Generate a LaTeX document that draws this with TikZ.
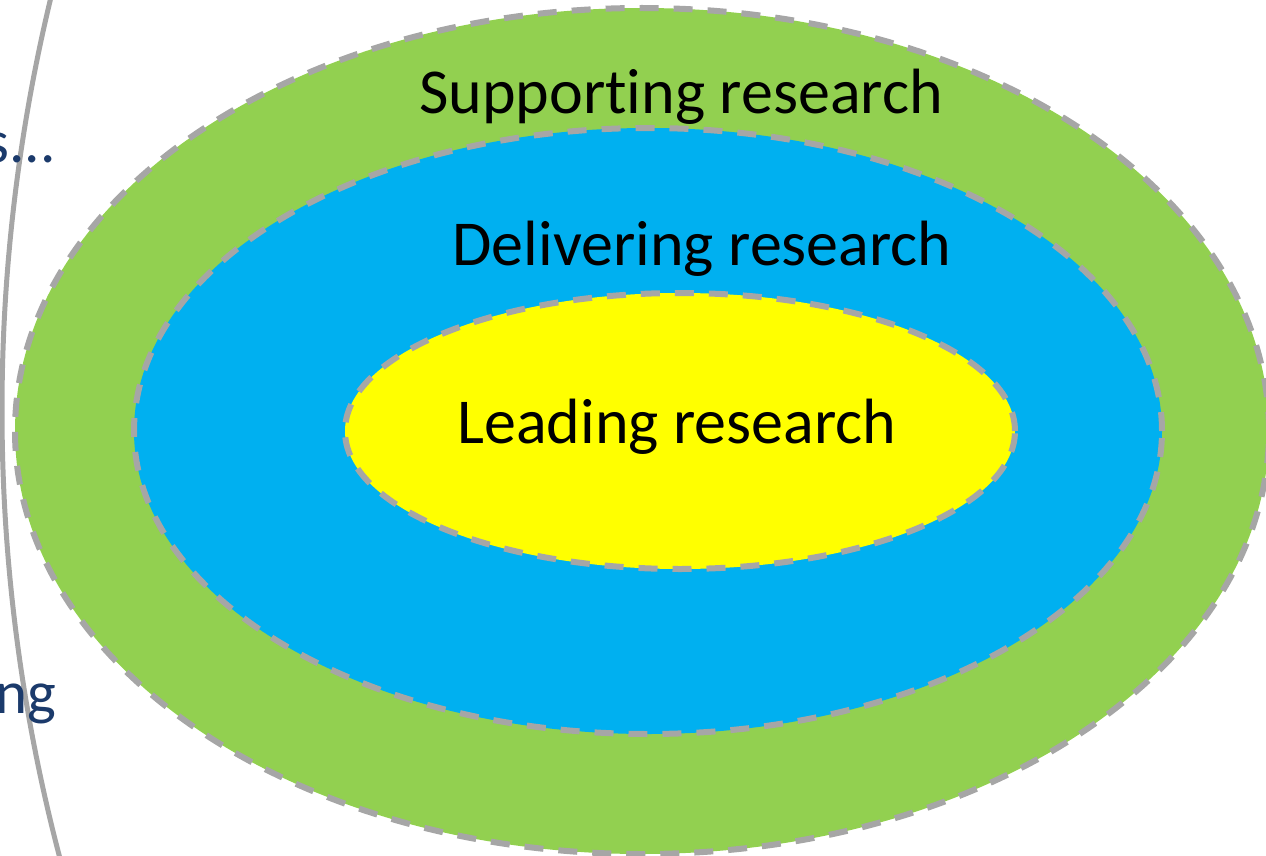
\documentclass[tikz,border=0pt]{standalone}
\usepackage{fontspec}
\setmainfont{Carlito}[Ligatures=NoCommon]
\definecolor{ringgreen}{HTML}{92D050}
\definecolor{ringblue}{HTML}{00B0F0}
\definecolor{ringyellow}{HTML}{FFFF00}
\definecolor{rimgray}{HTML}{A6A6A6}
\definecolor{sidetext}{HTML}{1B3A6B}
\begin{document}
\begin{tikzpicture}[x=1pt,y=-1pt]
        \tikzstyle{ring}=[draw=rimgray,line width=6pt,dash pattern=on 19pt off 15pt]
        \tikzstyle{ringtext}=[anchor=base,inner sep=0pt,font=\fontsize{64}{70}\selectfont]
        \tikzstyle{side}=[anchor=base east,inner sep=0pt,text=sidetext,font=\fontsize{61}{66}\selectfont]
       \begin{scope}
         \clip (0,0) rectangle (1266,856);
         \draw [rimgray,line width=5pt] (1752,410) circle [radius=1750pt];
         \node [side] (dots) at (56,163) {s...};
         \node [side] (ng) at (56,713) {ng};

         \path [ring,fill=ringgreen] (642,431) ellipse [x radius=627pt,y radius=423pt];
         \path [ring,fill=ringblue] (648,431) ellipse [x radius=514pt,y radius=303pt];
         \path [ring,fill=ringyellow] (680,431) ellipse [x radius=335pt,y radius=138pt];

         \node [ringtext] (supporting) at (681,114) {Supporting research};
         \node [ringtext] (delivering) at (702,265) {Delivering research};
         \node [ringtext] (leading) at (677,443) {Leading research};
        \end{scope}
      \end{tikzpicture}
\end{document}
